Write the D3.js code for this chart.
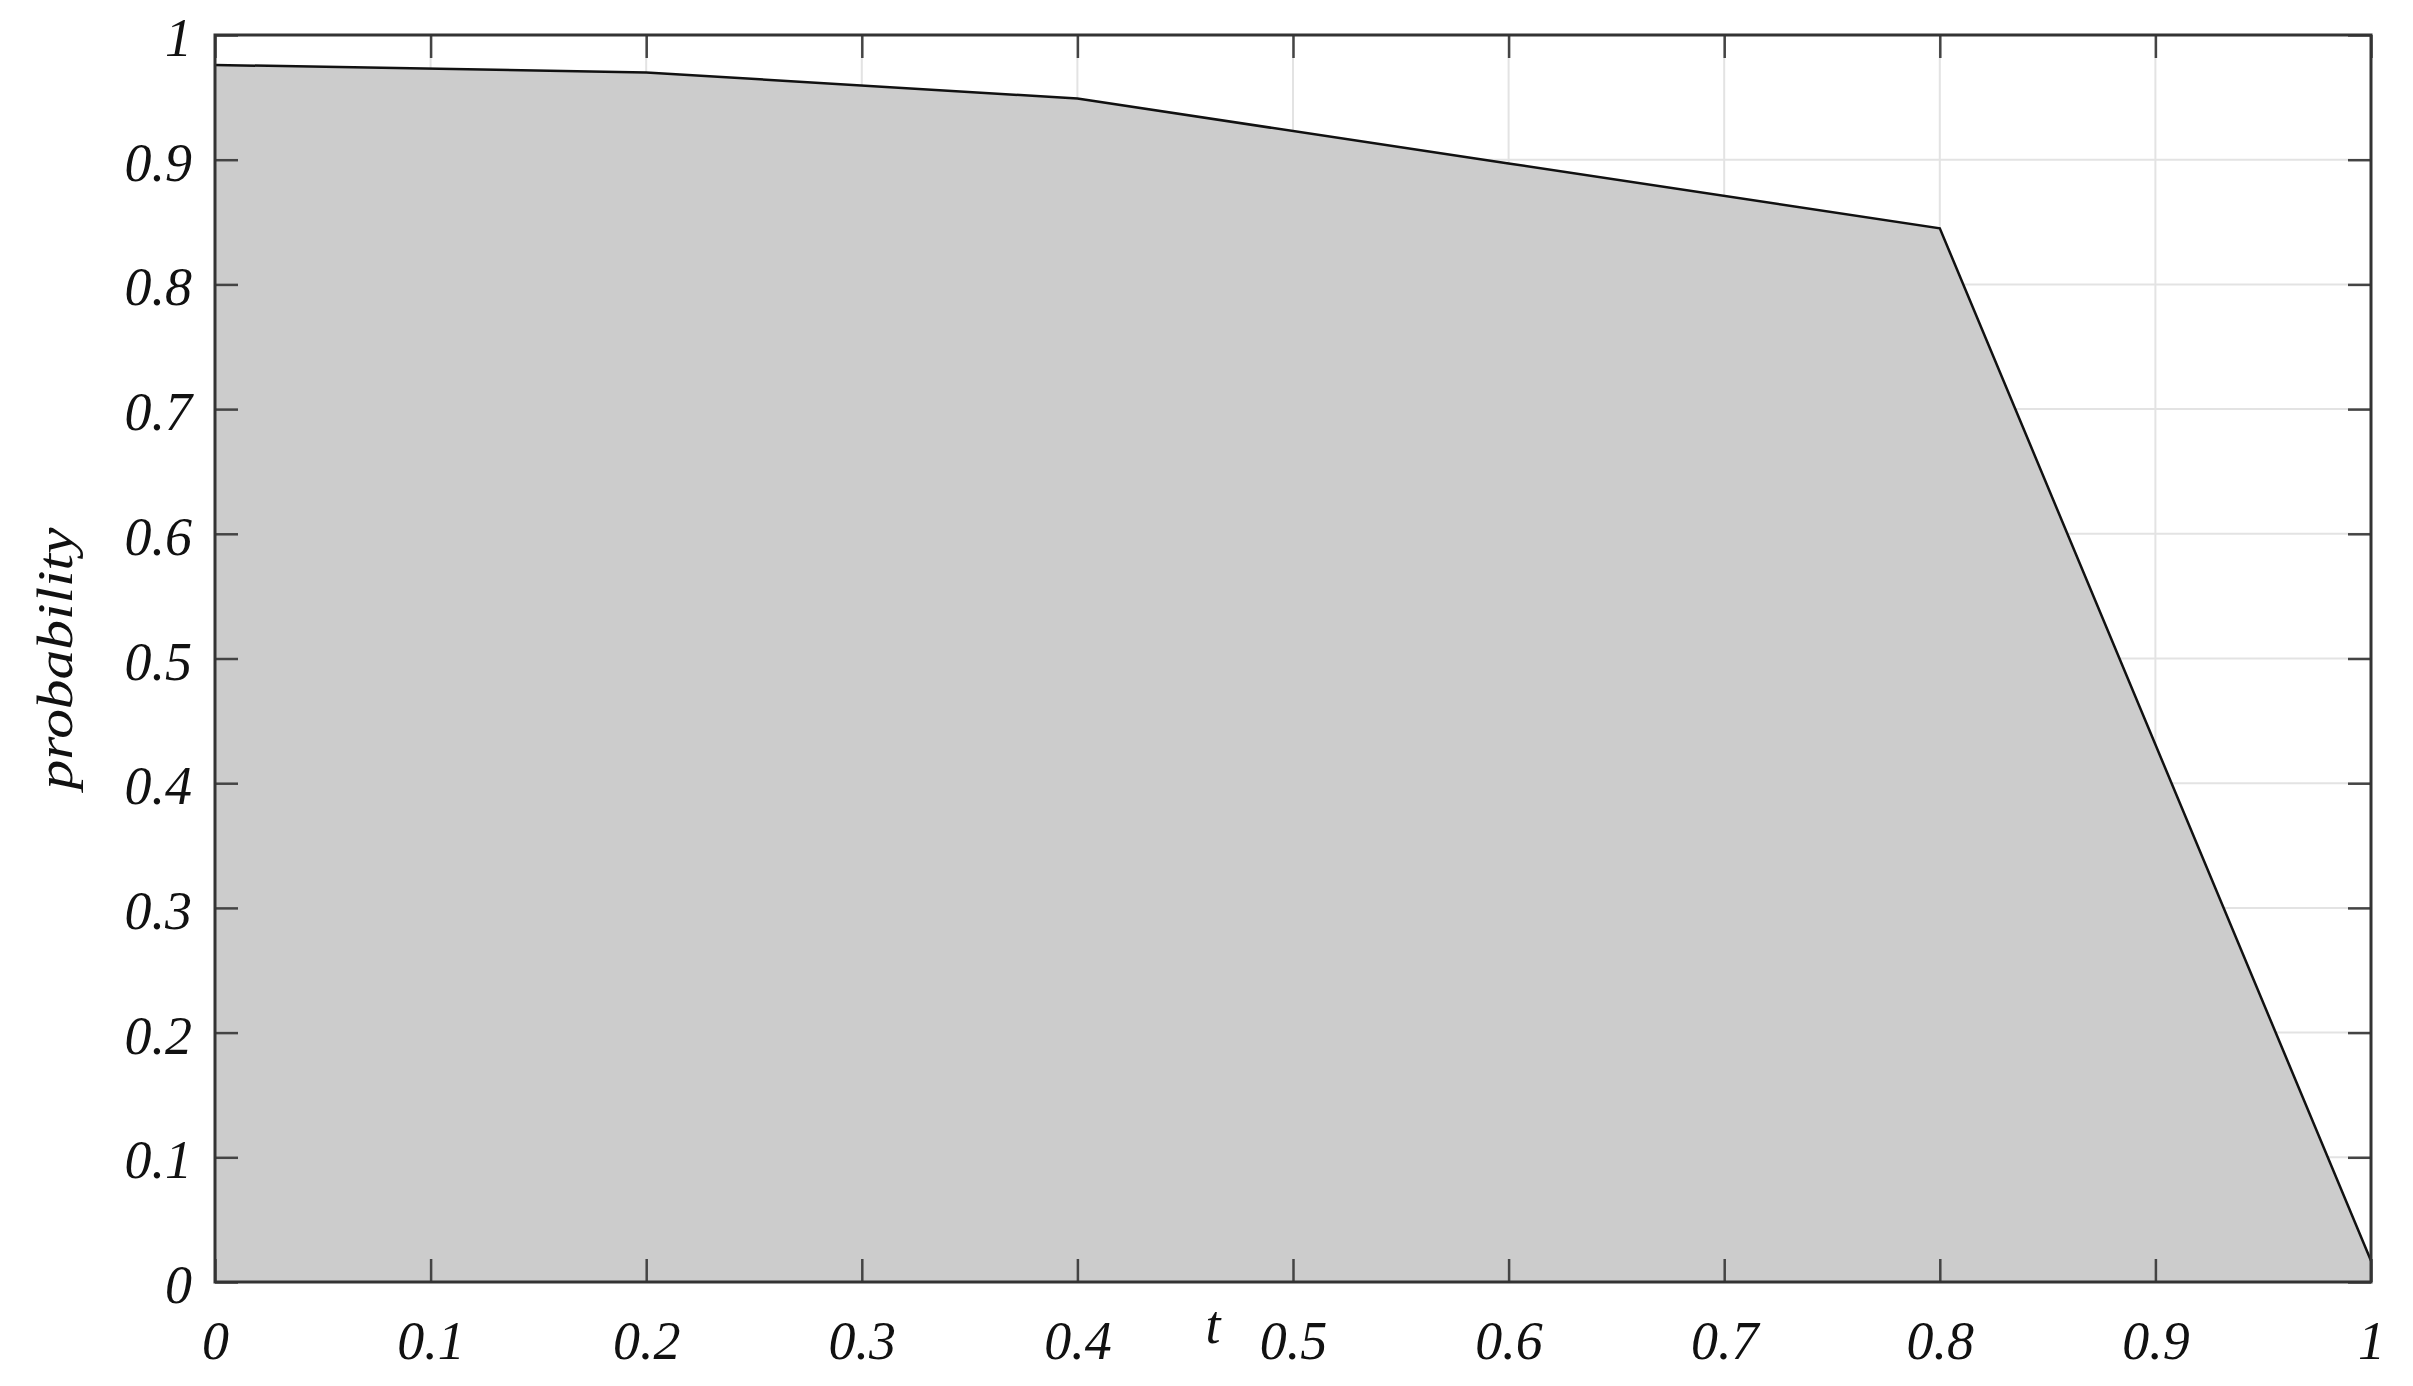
<!DOCTYPE html>
<html>
<head>
<meta charset="utf-8">
<script src="https://cdn.jsdelivr.net/npm/d3@7"></script>
<style>
  body { margin: 0; background: #fff; }
  .tick text { font-family: "Liberation Serif", "DejaVu Serif", serif; font-style: italic; }
</style>
</head>
<body>
<div id="chart"></div>
<script>
(() => {
    // values
    let tValues = [0, 0.2, 0.4, 0.6, 0.8, 1];
    let probValues = [0.976, 0.970, 0.949, 0.897, 0.845, 0.017];
    let tickValues = [0, 0.1, 0.2, 0.3, 0.4, 0.5, 0.6, 0.7, 0.8, 0.9, 1];

    let W = 2413, H = 1386;
    let m = {left: 215, top: 35, right: 42, bottom: 104};
    let w = W - m.left - m.right;
    let h = H - m.top - m.bottom;

    let svg = d3.select('#chart')
        .append('svg')
        .attr('width', W)
        .attr('height', H);

    let g = svg.append('g')
        .attr('transform', `translate(${m.left},${m.top})`);

    let x = d3.scaleLinear().domain([0, 1]).range([0, w]);
    let y = d3.scaleLinear().domain([0, 1]).range([h, 0]);

    let fmt = d => d === 0 ? '0' : d === 1 ? '1' : d3.format('.1f')(d);

    // grid
    g.append('g')
        .selectAll('line.gx')
        .data(tickValues)
        .enter().append('line')
        .attr('x1', d => x(d)).attr('x2', d => x(d))
        .attr('y1', 0).attr('y2', h)
        .attr('stroke', '#e3e3e3').attr('stroke-width', 2);
    g.append('g')
        .selectAll('line.gy')
        .data(tickValues)
        .enter().append('line')
        .attr('y1', d => y(d)).attr('y2', d => y(d))
        .attr('x1', 0).attr('x2', w)
        .attr('stroke', '#e3e3e3').attr('stroke-width', 2);

    let data = tValues.map((t, i) => ({t: t, p: probValues[i]}));

    let area = d3.area()
        .x(d => x(d.t))
        .y0(h)
        .y1(d => y(d.p));
    let line = d3.line()
        .x(d => x(d.t))
        .y(d => y(d.p));

    g.append('path')
        .datum(data)
        .attr('d', area)
        .attr('fill', '#cccccc');

    g.append('path')
        .datum(data)
        .attr('d', line)
        .attr('fill', 'none')
        .attr('stroke', '#111')
        .attr('stroke-width', 2.5);

    // axes with inward ticks
    let tickLen = 23;
    let styleAxis = sel => {
        sel.select('.domain').remove();
        sel.selectAll('.tick line').attr('stroke', '#444').attr('stroke-width', 2.5);
        sel.selectAll('.tick text').attr('font-size', 54).attr('fill', '#111');
    };

    g.append('g')
        .attr('transform', `translate(0,${h})`)
        .call(d3.axisBottom(x).tickValues(tickValues).tickFormat(fmt).tickSizeInner(-tickLen).tickSizeOuter(0).tickPadding(39))
        .call(styleAxis);

    g.append('g')
        .call(d3.axisLeft(y).tickValues(tickValues).tickFormat(fmt).tickSizeInner(-tickLen).tickSizeOuter(0).tickPadding(23))
        .call(styleAxis)
        .selectAll('.tick text').attr('dy', '0.38em');

    g.append('g')
        .call(d3.axisTop(x).tickValues(tickValues).tickFormat('').tickSizeInner(-tickLen).tickSizeOuter(0))
        .call(styleAxis);

    g.append('g')
        .attr('transform', `translate(${w},0)`)
        .call(d3.axisRight(y).tickValues(tickValues).tickFormat('').tickSizeInner(-tickLen).tickSizeOuter(0))
        .call(styleAxis);

    // frame
    g.append('rect')
        .attr('width', w).attr('height', h)
        .attr('fill', 'none')
        .attr('stroke', '#333')
        .attr('stroke-width', 3);

    // axis labels
    svg.append('text')
        .attr('x', 1213).attr('y', 1343)
        .attr('text-anchor', 'middle')
        .style('font-family', '"Liberation Serif", serif')
        .style('font-style', 'italic')
        .style('font-size', '54px')
        .attr('fill', '#111')
        .text('t');

    svg.append('text')
        .attr('transform', `translate(72,${m.top + h / 2}) rotate(-90)`)
        .attr('text-anchor', 'middle')
        .attr('textLength', 262)
        .attr('lengthAdjust', 'spacingAndGlyphs')
        .style('font-family', '"Liberation Serif", serif')
        .style('font-style', 'italic')
        .style('font-size', '50px')
        .attr('fill', '#111')
        .text('probability');
})();
</script>
</body>
</html>
